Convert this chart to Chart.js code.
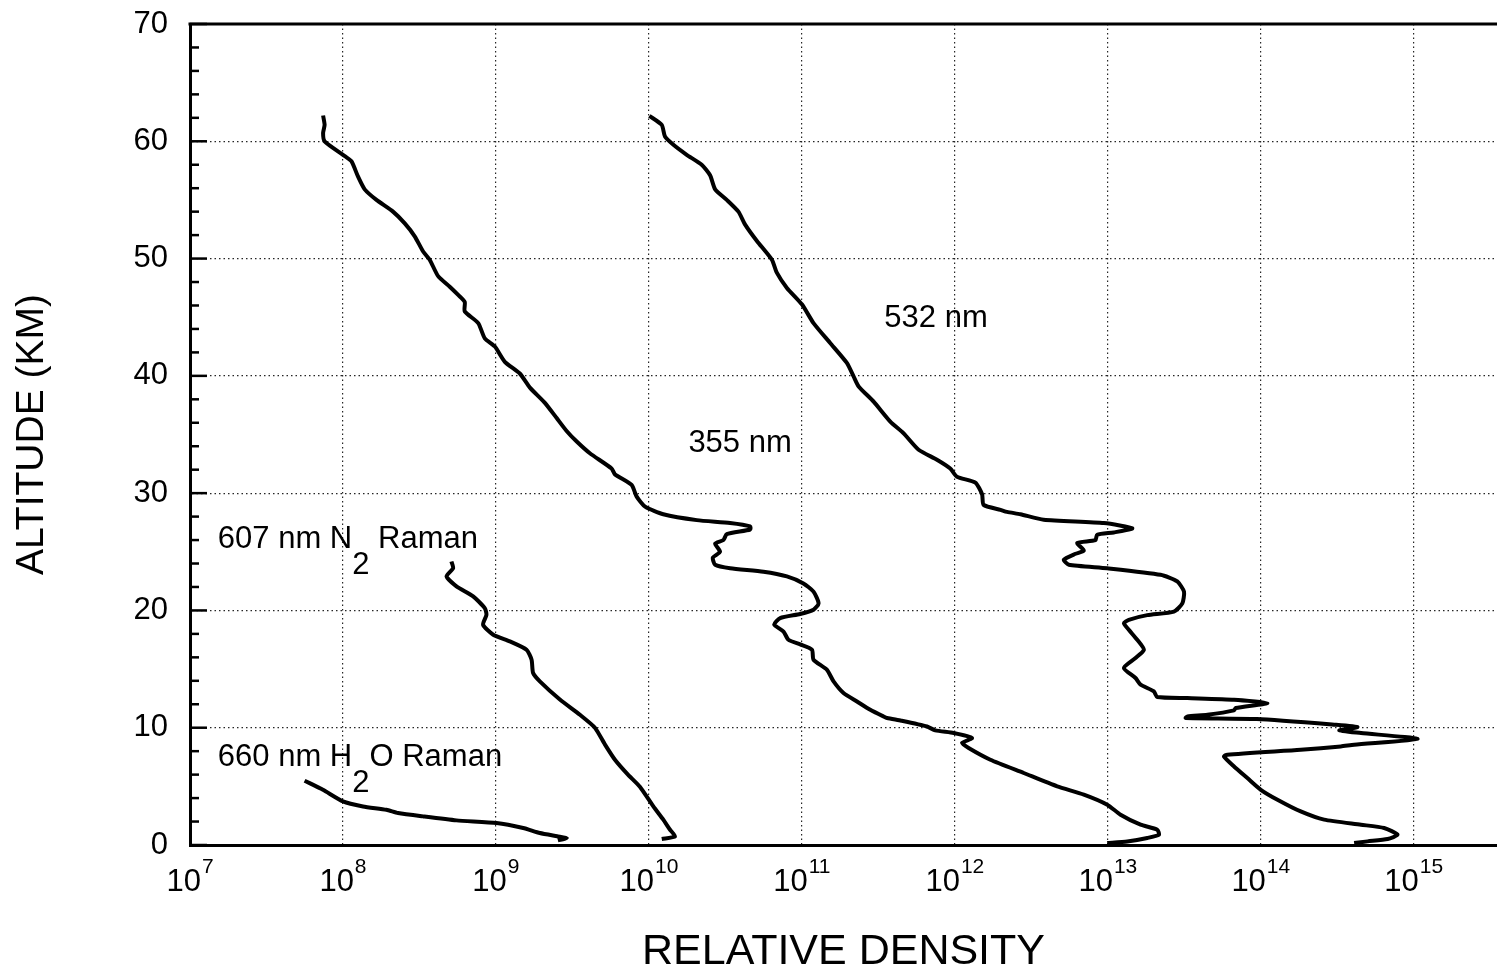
<!DOCTYPE html>
<html>
<head>
<meta charset="utf-8">
<script src="https://cdn.jsdelivr.net/npm/chart.js@4.4.1/dist/chart.umd.min.js"></script>
<style>
  html, body { margin: 0; padding: 0; background: #fff; overflow: hidden; }
  canvas { display: block; }
</style>
</head>
<body>
<canvas id="myChart" width="1497" height="971"></canvas>
<script>
// each profile: [altitude km, log10 relative density]
var profile355 = [
    [62.2, 7.87], [61.4, 7.88], [60.7, 7.87], [60.0, 7.88], [58.85, 8.0], [58.3, 8.055],
    [57.0, 8.098], [55.9, 8.142], [55.0, 8.219], [54.0, 8.327], [53.0, 8.404], [51.9, 8.469],
    [50.6, 8.524], [49.9, 8.567], [48.5, 8.622], [47.6, 8.698], [46.9, 8.753], [46.3, 8.796],
    [45.5, 8.796], [44.5, 8.884], [43.2, 8.927], [42.5, 8.993], [41.2, 9.058], [40.2, 9.156],
    [39.0, 9.222], [37.7, 9.32], [36.4, 9.397], [35.3, 9.462], [34.4, 9.528], [33.4, 9.614],
    [32.1, 9.756], [31.6, 9.778], [30.7, 9.887], [29.7, 9.92], [28.85, 9.975], [28.2, 10.094],
    [27.7, 10.313], [27.45, 10.531], [27.16, 10.662], [26.9, 10.662], [26.5, 10.509], [26.0, 10.487],
    [25.7, 10.433], [25.0, 10.465], [24.5, 10.418], [23.9, 10.433], [23.6, 10.531], [23.3, 10.749],
    [22.9, 10.902], [22.3, 11.01], [21.6, 11.076], [20.6, 11.109], [20.06, 11.076], [19.7, 10.989],
    [19.35, 10.858], [18.8, 10.819], [18.2, 10.88], [17.5, 10.912], [17.1, 10.989], [16.65, 11.066],
    [15.8, 11.076], [14.95, 11.163], [13.95, 11.207], [12.96, 11.272], [12.24, 11.36], [11.53, 11.447],
    [10.96, 11.534], [10.83, 11.557], [10.6, 11.65], [10.1, 11.818], [9.77, 11.872], [9.55, 11.992],
    [9.12, 12.112], [8.7, 12.047], [8.27, 12.09], [7.27, 12.232], [6.14, 12.45], [5.0, 12.669],
    [4.3, 12.843], [3.44, 12.996], [2.58, 13.083], [1.73, 13.214], [1.3, 13.323], [0.88, 13.334],
    [0.6, 13.258], [0.3, 13.127], [0.17, 12.996]
];

var profile532 = [
    [62.17, 10.003], [61.4, 10.084], [60.4, 10.105], [59.7, 10.16], [58.85, 10.247], [58.0, 10.345],
    [57.1, 10.4], [55.9, 10.433], [55.0, 10.509], [54.0, 10.585], [52.9, 10.629], [51.5, 10.706],
    [49.9, 10.804], [48.8, 10.836], [47.5, 10.902], [46.1, 11.0], [44.5, 11.076], [42.8, 11.185],
    [41.1, 11.294], [39.95, 11.338], [39.1, 11.371], [37.8, 11.469], [36.1, 11.578], [35.1, 11.665],
    [33.7, 11.763], [32.85, 11.883], [32.1, 11.97], [31.4, 12.014], [30.9, 12.134], [29.9, 12.178],
    [29.0, 12.188], [28.58, 12.298], [28.4, 12.341], [28.2, 12.429], [27.73, 12.581], [27.45, 12.974],
    [27.0, 13.16], [26.65, 13.039], [26.45, 12.93], [26.0, 12.919], [25.75, 12.8], [25.1, 12.843],
    [24.83, 12.789], [24.32, 12.712], [23.9, 12.745], [23.6, 12.996], [23.04, 13.345], [22.47, 13.454],
    [21.6, 13.498], [20.6, 13.487], [19.9, 13.432], [19.6, 13.258], [19.2, 13.137], [18.9, 13.105],
    [18.35, 13.137], [17.5, 13.192], [16.65, 13.236], [15.94, 13.181], [15.1, 13.105], [14.24, 13.181],
    [13.67, 13.214], [13.1, 13.301], [12.62, 13.323], [12.53, 13.52], [12.39, 13.825], [12.1, 14.043],
    [11.68, 13.836], [11.48, 13.825], [11.1, 13.651], [10.96, 13.52], [10.83, 13.509], [10.74, 13.974],
    [10.26, 14.48], [10.06, 14.632], [9.77, 14.513], [9.55, 14.655], [9.04, 15.025], [8.55, 14.61],
    [8.4, 14.523], [8.12, 14.261], [7.7, 13.781], [7.55, 13.759], [6.7, 13.825], [5.71, 13.912],
    [4.71, 14.0], [3.86, 14.109], [2.86, 14.261], [2.16, 14.414], [1.73, 14.655], [1.45, 14.806],
    [0.88, 14.894], [0.51, 14.829], [0.31, 14.698], [0.17, 14.61]
];

var profileN2 = [
    [24.18, 8.709], [23.6, 8.72], [22.9, 8.677], [22.05, 8.742], [21.2, 8.851], [20.2, 8.927],
    [19.63, 8.938], [18.78, 8.916], [17.93, 8.982], [17.36, 9.091], [16.65, 9.2], [15.8, 9.233],
    [14.66, 9.243], [13.95, 9.287], [12.4, 9.418], [11.1, 9.549], [10.0, 9.647], [8.56, 9.713],
    [7.27, 9.778], [6.0, 9.863], [4.97, 9.941], [3.29, 10.029], [2.16, 10.094], [1.3, 10.138],
    [0.73, 10.171], [0.51, 10.084]
];

var profileH2O = [
    [5.48, 7.749], [4.71, 7.869], [3.72, 8.0], [3.29, 8.131], [3.0, 8.284], [2.73, 8.36],
    [2.44, 8.524], [2.1, 8.742], [1.88, 9.004], [1.45, 9.178], [1.02, 9.287], [0.75, 9.4],
    [0.6, 9.463], [0.4, 9.405]
];

var xTickExps = [7, 8, 9, 10, 11, 12, 13, 14, 15];

// curve labels: [text, subscript?]
var curveLabels = [
    { at: [11.539, 44.19], parts: [['532 nm', false]] },
    { at: [10.258, 33.55], parts: [['355 nm', false]] },
    { at: [7.182, 25.32], parts: [['607 nm N', false], ['2', true], [' Raman', false]] },
    { at: [7.182, 6.70], parts: [['660 nm H', false], ['2', true], ['O Raman', false]] }
];

var FONT = '"Liberation Sans", Arial, sans-serif';

function toPoints(profile) {
    return profile.map(function (p) { return { x: Math.pow(10, p[1]), y: p[0] }; });
}

function line(profile) {
    return {
        data: toPoints(profile),
        showLine: true,
        borderColor: '#000',
        borderWidth: 4,
        pointRadius: 0,
        tension: 0.2,
        fill: false
    };
}

var extras = {
    id: 'extras',
    afterDraw: function (chart) {
        var ctx = chart.ctx, a = chart.chartArea, x = chart.scales.x, y = chart.scales.y;
        ctx.save();
        ctx.strokeStyle = '#000';
        ctx.lineWidth = 3;
        ctx.beginPath();
        ctx.moveTo(a.left - 1.5, a.top);
        ctx.lineTo(a.right, a.top);
        ctx.stroke();

        // inward ticks on the altitude axis, minor every 2 km
        ctx.lineWidth = 2.5;
        for (var v = 0; v <= 70; v += 2) {
            var py = y.getPixelForValue(v);
            var len = v % 10 === 0 ? 17 : 9;
            ctx.beginPath();
            ctx.moveTo(a.left, py);
            ctx.lineTo(a.left + len, py);
            ctx.stroke();
        }

        // 10^n tick labels
        ctx.fillStyle = '#000';
        ctx.textBaseline = 'alphabetic';
        ctx.textAlign = 'left';
        xTickExps.forEach(function (e) {
            var px = x.getPixelForValue(Math.pow(10, e));
            ctx.font = '31px ' + FONT;
            var w1 = ctx.measureText('10').width;
            ctx.font = '21px ' + FONT;
            var w2 = ctx.measureText(String(e)).width;
            var sx = px - (w1 + w2 + 1) / 2;
            ctx.font = '31px ' + FONT;
            ctx.fillText('10', sx, a.bottom + 46);
            ctx.font = '21px ' + FONT;
            ctx.fillText(String(e), sx + w1 + 1, a.bottom + 28);
        });

        // curve labels
        ctx.font = '31px ' + FONT;
        curveLabels.forEach(function (lb) {
            var cx = x.getPixelForValue(Math.pow(10, lb.at[0]));
            var by = y.getPixelForValue(lb.at[1]);
            lb.parts.forEach(function (part) {
                ctx.fillText(part[0], cx, by + (part[1] ? 26 : 0));
                cx += ctx.measureText(part[0]).width;
            });
        });
        ctx.restore();
    }
};

var ctx = document.getElementById('myChart').getContext('2d');
var chart = new Chart(ctx, {
    type: 'scatter',
    data: {
        datasets: [line(profile355), line(profile532), line(profileN2), line(profileH2O)]
    },
    options: {
        responsive: false,
        animation: false,
        devicePixelRatio: 1,
        layout: { padding: { top: 24, right: 0, left: 0, bottom: 0 } },
        plugins: { legend: { display: false }, tooltip: { enabled: false } },
        scales: {
            x: {
                type: 'logarithmic',
                min: 1e7,
                max: 3.5e15,
                afterBuildTicks: function (scale) {
                    scale.ticks = xTickExps.map(function (e) { return { value: Math.pow(10, e) }; });
                },
                afterFit: function (scale) {
                    scale.height = 126;
                    scale.paddingLeft = 0;
                    scale.paddingRight = 0;
                },
                ticks: { display: false },
                grid: { color: 'rgba(0,0,0,0.85)', lineWidth: 1.2, drawTicks: false },
                border: { display: true, color: '#000', width: 3, dash: [1.5, 3] },
                title: {
                    display: true,
                    text: 'RELATIVE DENSITY',
                    color: '#000',
                    font: { family: FONT, size: 43, lineHeight: 1 },
                    padding: { top: 0, bottom: -3 }
                }
            },
            y: {
                min: 0,
                max: 70,
                afterFit: function (scale) {
                    scale.width = 190;
                    scale.paddingTop = 0;
                    scale.paddingBottom = 0;
                },
                ticks: {
                    stepSize: 10,
                    color: '#000',
                    padding: 22,
                    font: { family: FONT, size: 31 }
                },
                grid: { color: 'rgba(0,0,0,0.85)', lineWidth: 1.2, drawTicks: false },
                border: { display: true, color: '#000', width: 3, dash: [1.5, 3] },
                title: {
                    display: true,
                    text: 'ALTITUDE (KM)',
                    color: '#000',
                    font: { family: FONT, size: 39, lineHeight: 1 },
                    padding: { top: 13, bottom: 0 }
                }
            }
        }
    },
    plugins: [extras]
});
</script>
</body>
</html>
